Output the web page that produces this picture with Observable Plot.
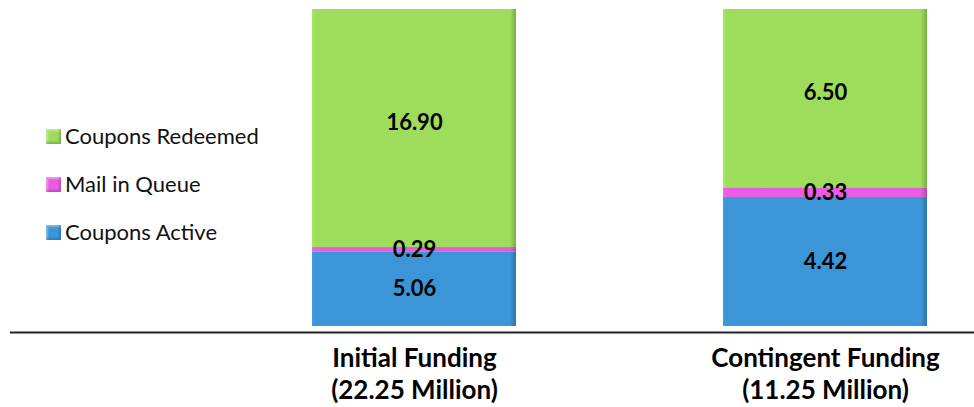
<!DOCTYPE html>
<html><head><meta charset="utf-8">
<script src="https://cdn.jsdelivr.net/npm/d3@7"></script>
<script src="https://cdn.jsdelivr.net/npm/@observablehq/plot@0.6"></script>
<style>
body{margin:0;background:#fff;font-family:Lato,sans-serif;}
#wrap{position:relative;width:974px;height:407px;}
#legend{position:absolute;left:0;top:0;}
.item{position:absolute;left:46px;display:flex;align-items:center;white-space:nowrap;font-size:22px;color:#111;line-height:24px;}
.sw{width:15px;height:15px;margin-right:4px;box-shadow:inset -2px -2px 2px rgba(0,0,0,0.18), inset 2px 2px 2px rgba(255,255,255,0.35);}
</style></head><body>
<div id="wrap"><div id="legend"></div></div>
<script>
const fundings = ["Initial Funding\n(22.25 Million)", "Contingent Funding\n(11.25 Million)"];
const series = ["Coupons Active", "Mail in Queue", "Coupons Redeemed"];
const colors = ["#3b95d6", "#e95ce1", "#9ddd5b"];
const couponsActive = [5.06, 4.42];
const mailInQueue = [0.29, 0.33];
const couponsRedeemed = [16.90, 6.50];
const legendOrder = ["Coupons Redeemed", "Mail in Queue", "Coupons Active"];

const values = [couponsActive, mailInQueue, couponsRedeemed];
const data = [];
series.forEach((s, i) => fundings.forEach((f, j) => data.push({funding: f, series: s, value: values[i][j]})));

// horizontal bevel-like gradients, one per series colour
const gradIds = series.map((s, i) => "grad" + i);
function gradientDefs() {
  const defs = d3.create("svg:defs");
  colors.forEach((c, i) => {
    const g = defs.append("linearGradient").attr("id", gradIds[i]).attr("x1", 0).attr("x2", 1).attr("y1", 0).attr("y2", 0);
    const dark = d3.color(c).darker(0.7).formatHex();
    const light = d3.color(c).brighter(0.15).formatHex();
    g.append("stop").attr("offset", "0%").attr("stop-color", light);
    g.append("stop").attr("offset", "2%").attr("stop-color", c);
    g.append("stop").attr("offset", "97%").attr("stop-color", c);
    g.append("stop").attr("offset", "100%").attr("stop-color", dark);
  });
  return defs.node();
}

const plot = Plot.plot({
  width: 974, height: 407,
  marginTop: 9, marginBottom: 81, marginLeft: 0, marginRight: 0,
  x: {domain: fundings, range: [312, 927], paddingInner: 0.504, paddingOuter: 0, label: null},
  y: {domain: [0, 0.965], axis: null},
  color: {domain: series, range: gradIds.map(id => `url(#${id})`)},
  style: {fontFamily: "Lato, sans-serif", background: "white", overflow: "visible"},
  marks: [
    gradientDefs,
    Plot.barY(data, Plot.stackY({x: "funding", y: "value", fill: "series", order: series, offset: "normalize", clip: true})),
    Plot.text(data, Plot.stackY({x: "funding", y: "value", z: "series", order: series, offset: "normalize",
      text: d => d.value.toFixed(2), fontSize: 22, fontWeight: "bold", fill: "black"})),
    Plot.ruleY([0], {dy: 6, insetLeft: 10, stroke: "#222", strokeWidth: 2}),
    Plot.axisX({tickSize: 0, tickPadding: 17, fontSize: 26, fontWeight: "bold", lineHeight: 1.25, fill: "black", label: null})
  ]
});
document.getElementById("wrap").prepend(plot);

const legend = document.getElementById("legend");
const centers = [136, 184, 232];
legendOrder.forEach((s, i) => {
  const it = document.createElement("div");
  it.className = "item";
  it.style.top = (centers[i] - 12) + "px";
  const sw = document.createElement("div");
  sw.className = "sw";
  sw.style.background = colors[series.indexOf(s)];
  it.appendChild(sw);
  it.appendChild(document.createTextNode(s));
  legend.appendChild(it);
});
</script>
</body></html>
